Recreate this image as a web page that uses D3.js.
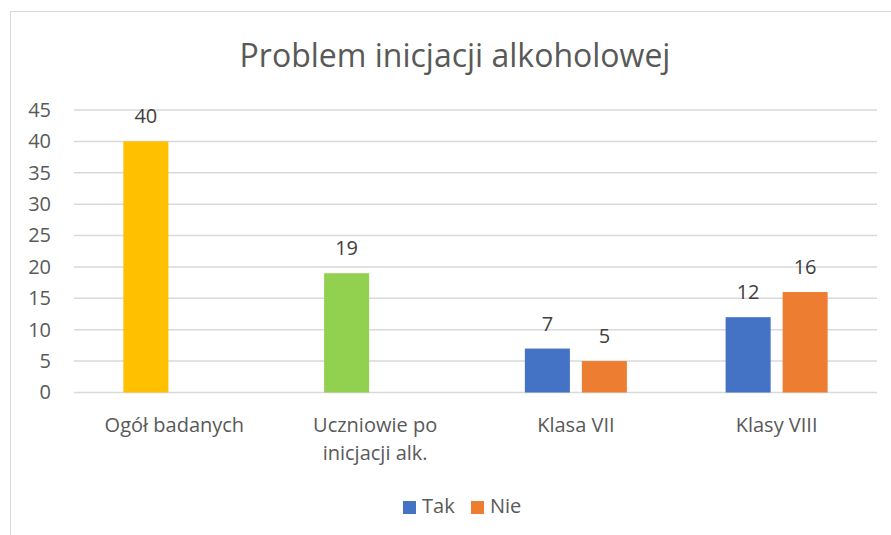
<!DOCTYPE html>
<html>
<head>
<meta charset="utf-8">
<script src="https://cdn.jsdelivr.net/npm/d3@7"></script>
<style>
  body { margin: 0; background: #fff; }
  svg { display: block; font-family: "Open Sans", sans-serif; }
</style>
</head>
<body>
<script>
// data
var categories = ["Ogół badanych", "Uczniowie po\ninicjacji alk.", "Klasa VII", "Klasy VIII"];
var seriesNames = ["Tak", "Nie"];
var takValues = [40, 19, 7, 12];
var nieValues = [null, null, 5, 16];
var takPointColors = ["#FFC000", "#92D050", "#4472C4", "#4472C4"];
var yTicks = [0, 5, 10, 15, 20, 25, 30, 35, 40, 45];

var width = 891, height = 535;
var margin = {top: 110, right: 14, bottom: 142, left: 74};
var textColor = "#595959";
var fontSize = 20;

var svg = d3.select("body").append("svg")
	.attr("width", width)
	.attr("height", height);

// chart border
svg.append("rect")
	.attr("x", 10.5).attr("y", 11.5)
	.attr("width", 900).attr("height", 600)
	.attr("fill", "#fff")
	.attr("stroke", "#d9d9d9");

var x = d3.scaleBand()
	.domain(categories)
	.range([margin.left, width - margin.right]);

var y = d3.scaleLinear()
	.domain([0, 45])
	.range([height - margin.bottom - 0.5, margin.top]);

// two bars per category, 45px wide, centers 57px apart
var xs = d3.scaleBand()
	.domain(seriesNames)
	.range([0, x.bandwidth()])
	.paddingInner(0.21)
	.paddingOuter(0.866);

// gridlines
svg.append("g")
	.selectAll("line")
	.data(yTicks)
	.join("line")
	.attr("x1", margin.left)
	.attr("x2", width - margin.right)
	.attr("y1", function(d) { return y(d); })
	.attr("y2", function(d) { return y(d); })
	.attr("stroke", "#d9d9d9")
	.attr("stroke-width", 1.5);

// y axis labels
var yAxis = d3.axisLeft(y).tickValues(yTicks).tickSize(0).tickPadding(23);
svg.append("g")
	.attr("transform", "translate(" + margin.left + ",0)")
	.call(yAxis)
	.call(function(g) {
		g.select(".domain").remove();
		g.selectAll("text")
			.attr("fill", textColor)
			.attr("font-size", fontSize)
			.attr("font-family", "Open Sans, sans-serif");
	});

var series = [
	{name: "Tak", values: takValues, color: function(i) { return takPointColors[i]; }},
	{name: "Nie", values: nieValues, color: function() { return "#ED7D31"; }}
];

series.forEach(function(s) {
	var pts = s.values.map(function(v, i) { return {cat: categories[i], v: v, i: i}; })
		.filter(function(d) { return d.v != null; });

	svg.append("g").selectAll("rect")
		.data(pts)
		.join("rect")
		.attr("x", function(d) { return x(d.cat) + xs(s.name); })
		.attr("width", xs.bandwidth())
		.attr("y", function(d) { return y(d.v); })
		.attr("height", function(d) { return y(0) - y(d.v); })
		.attr("fill", function(d) { return s.color(d.i); });

	svg.append("g").selectAll("text")
		.data(pts)
		.join("text")
		.attr("x", function(d) { return x(d.cat) + xs(s.name) + xs.bandwidth() / 2; })
		.attr("y", function(d) { return y(d.v) - 18; })
		.attr("text-anchor", "middle")
		.attr("font-size", fontSize)
		.attr("fill", "#404040")
		.text(function(d) { return d.v; });
});

// category labels
var catG = svg.append("g").selectAll("text")
	.data(categories)
	.join("text")
	.attr("x", function(d) { return x(d) + x.bandwidth() / 2; })
	.attr("y", 432)
	.attr("text-anchor", "middle")
	.attr("font-size", fontSize)
	.attr("fill", textColor);
catG.selectAll("tspan")
	.data(function(d) { return d.split("\n"); })
	.join("tspan")
	.attr("x", function() { return this.parentNode.getAttribute("x"); })
	.attr("dy", function(d, i) { return i ? 28 : 0; })
	.text(function(d) { return d; });

// title
svg.append("text")
	.attr("x", 455)
	.attr("y", 67)
	.attr("text-anchor", "middle")
	.attr("font-size", 32)
	.attr("fill", textColor)
	.text("Problem inicjacji alkoholowej");

// legend
var legendColors = ["#4472C4", "#ED7D31"];
var legendX = [403, 471];
var leg = svg.append("g").selectAll("g")
	.data(seriesNames)
	.join("g")
	.attr("transform", function(d, i) { return "translate(" + legendX[i] + ",501)"; });
leg.append("rect")
	.attr("width", 13).attr("height", 13)
	.attr("fill", function(d, i) { return legendColors[i]; });
leg.append("text")
	.attr("x", 19).attr("y", 12)
	.attr("font-size", fontSize)
	.attr("fill", textColor)
	.text(function(d) { return d; });
</script>
</body>
</html>
